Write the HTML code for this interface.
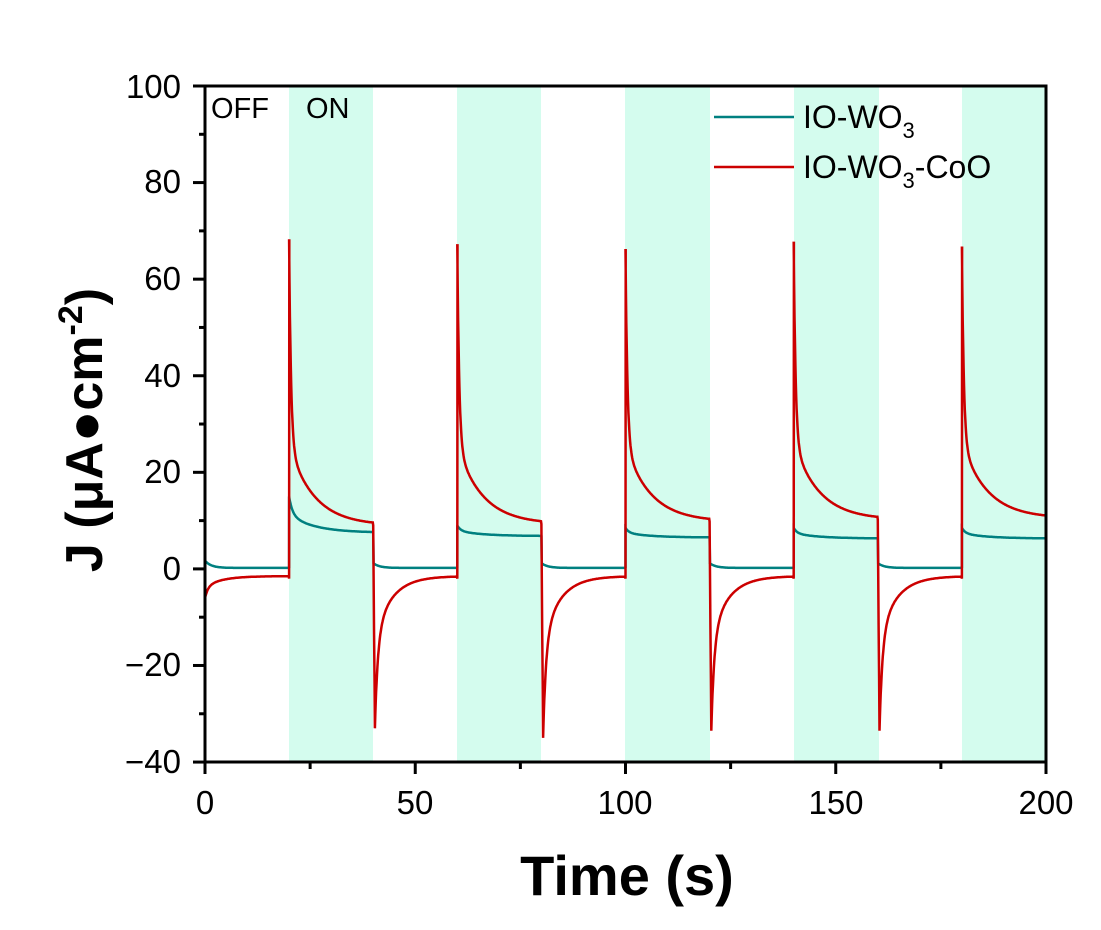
<!DOCTYPE html>
<html><head><meta charset="utf-8"><style>
body{margin:0;background:#fff}
text{font-family:"Liberation Sans",Arial,sans-serif}
</style></head><body>
<svg id="s" width="1101" height="925" xmlns="http://www.w3.org/2000/svg">
<rect width="1101" height="925" fill="#fff"/>
<g fill="#d4fcee">
<rect x="289" y="86" width="84" height="676"/>
<rect x="457" y="86" width="84" height="676"/>
<rect x="625" y="86" width="85" height="676"/>
<rect x="794" y="86" width="85" height="676"/>
<rect x="962" y="86" width="84" height="676"/>
</g>
<path id="teal" fill="none" stroke="#008080" stroke-width="2.5"/>
<path id="red" fill="none" stroke="#cc0000" stroke-width="2.5"/>
<rect x="205" y="86" width="841" height="676" fill="none" stroke="#000" stroke-width="3"/>
<g id="ticks" stroke="#000" stroke-width="3"></g>
<g font-size="33" fill="#000" text-anchor="end">
<text x="181" y="98">100</text><text x="181" y="193">80</text><text x="181" y="290">60</text>
<text x="181" y="387">40</text><text x="181" y="483">20</text><text x="181" y="580">0</text>
<text x="181" y="676">−20</text><text x="181" y="773">−40</text>
</g>
<g font-size="33" fill="#000" text-anchor="middle">
<text x="205" y="814">0</text><text x="415" y="814">50</text><text x="625" y="814">100</text>
<text x="836" y="814">150</text><text x="1046" y="814">200</text>
</g>
<text x="627" y="895" font-size="56" font-weight="bold" text-anchor="middle">Time (s)</text>
<text transform="translate(102,430) rotate(-90)" font-size="52" font-weight="bold" text-anchor="middle">J (μA●cm<tspan dy="-20" font-size="34">-2</tspan><tspan dy="20">)</tspan></text>
<text x="211" y="118" font-size="29">OFF</text>
<text x="306" y="118" font-size="29">ON</text>
<line x1="714" y1="117" x2="794" y2="117" stroke="#008080" stroke-width="2.5"/>
<line x1="714" y1="167" x2="794" y2="167" stroke="#cc0000" stroke-width="2.5"/>
<text x="803" y="128" font-size="32">IO-WO<tspan dy="10" font-size="22">3</tspan></text>
<text x="803" y="178" font-size="32">IO-WO<tspan dy="10" font-size="22">3</tspan><tspan dy="-10">-CoO</tspan></text>
</svg>
<script>
var X=function(t){return 205+4.205*t},Y=function(j){return 568.9-4.829*j};
var r=[],g=[];
function add(a,t,j){a.push((a.length?'L':'M')+X(t).toFixed(1)+','+Y(j).toFixed(1));}
var basesR=[9,9.3,9.8,10.2,10.5],pk=[68,67,66,67.5,66.5];
var tpk=[15,9,8.5,8.5,8.5],tend=[7.5,6.8,6.5,6.3,6.3];
var neg=[-33,-35,-33.5,-33.5];
for(var c=0;c<10;c++){
 var t0=c*20,on=c%2==1,k=(c-1)>>1;
 for(var dt=0;dt<=20;dt+=0.1){
  var t=t0+dt,jr,jt;
  if(on){
   var b=basesR[k],A=pk[k]-b;
   jr=b+A*(0.72*Math.exp(-dt/0.45)+0.28*Math.exp(-dt/6));
   if(dt<0.05){add(r,t,-2);add(r,t+0.05,pk[k]);}
   jt=tend[k]+(tpk[k]-tend[k])*(0.5*Math.exp(-dt/0.8)+0.5*Math.exp(-dt/6));
   if(dt<0.05){add(g,t,0.3);jt=tpk[k];}
  }else{
   var n=c==0?-7.5:neg[k];
   var d=c==0?dt+0.3:dt-0.4;
   if(d<0){jr=c==0?-7.5:basesR[k]+(n-basesR[k])*(dt/0.4);}
   else jr=-1.5+(n+1.5)*(0.6*Math.exp(-d/0.7)+0.4*Math.exp(-d/4));
   jt=0.2+(c==0?1.5:1)*Math.exp(-dt/1.5);
   if(c>0&&dt<0.05) jt=tend[k];
  }
  add(r,t,jr);add(g,t,jt);
 }
}
document.getElementById('red').setAttribute('d',r.join(''));
document.getElementById('teal').setAttribute('d',g.join(''));
var tk='';
for(var v=-40;v<=100;v+=10){var y=Y(v),L=v%20==0?12:6;tk+='<line x1="'+(205-L)+'" y1="'+y+'" x2="205" y2="'+y+'"/>';}
for(var s=0;s<=200;s+=25){var x=X(s),L=s%50==0?12:7;tk+='<line x1="'+x+'" y1="762" x2="'+x+'" y2="'+(762+L)+'"/>';}
document.getElementById('ticks').innerHTML=tk;
</script>
</body></html>
